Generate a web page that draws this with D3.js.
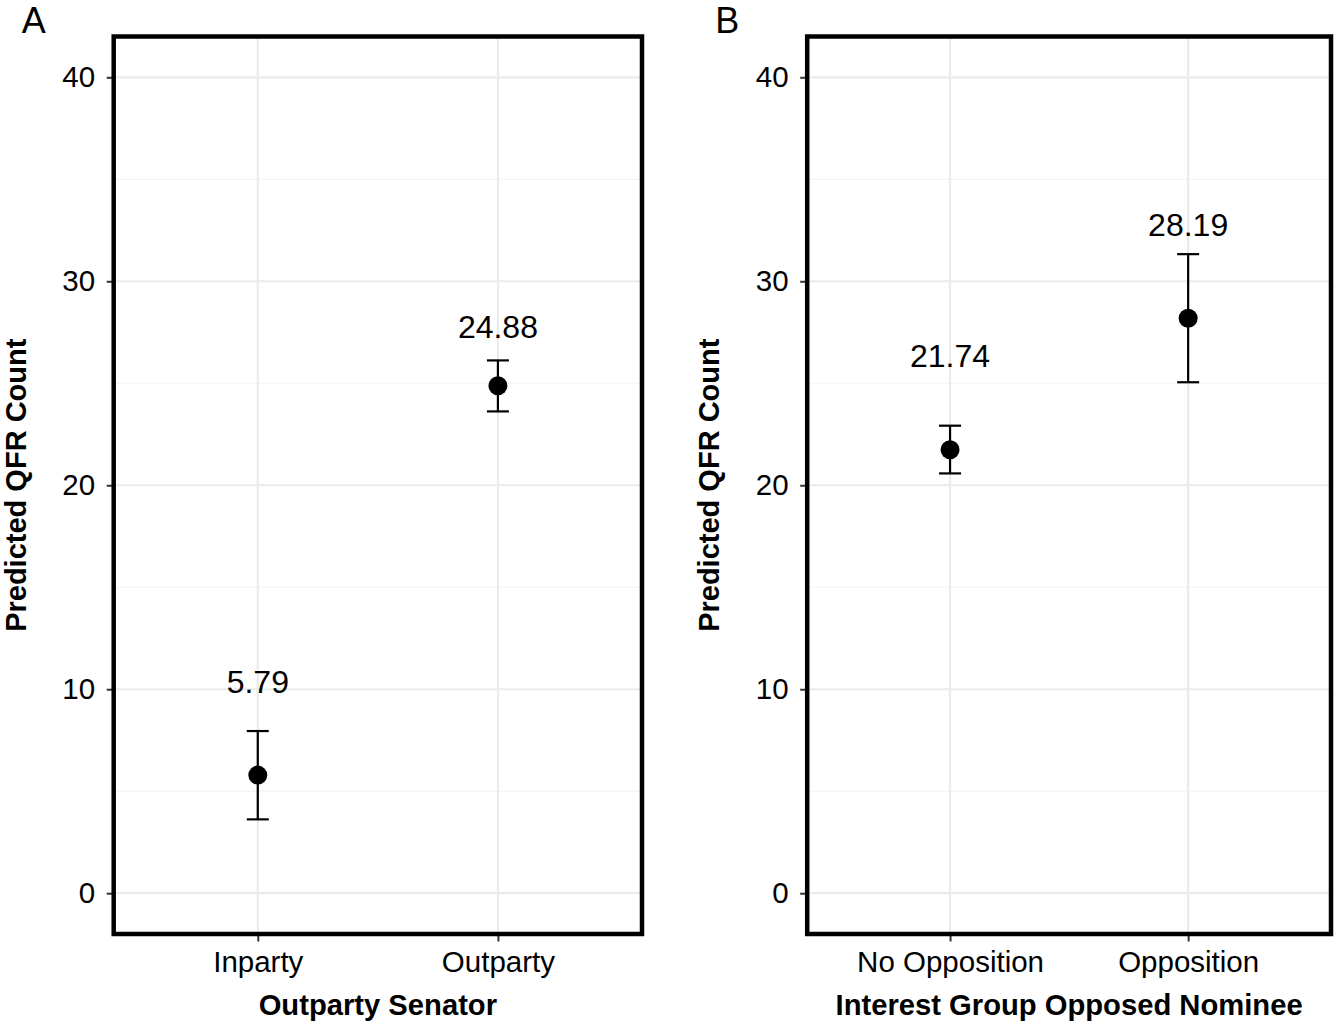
<!DOCTYPE html>
<html>
<head>
<meta charset="utf-8">
<script src="https://cdn.jsdelivr.net/npm/d3@7"></script>
<style>
  body { margin: 0; background: #fff; }
  svg { font-family: "Liberation Sans", Arial, sans-serif; }
</style>
</head>
<body>
<div id="chart"></div>
<script>
// panel A: outparty senator
const catsA = ['Inparty', 'Outparty'];
const estA = [5.79, 24.88];
const lowA = [3.62, 23.62];
const highA = [7.95, 26.12];
const labelYA = [10.38, 27.78];

// panel B: interest group opposition
const catsB = ['No Opposition', 'Opposition'];
const estB = [21.74, 28.19];
const lowB = [20.58, 25.05];
const highB = [22.92, 31.33];
const labelYB = [26.36, 32.8];

const yTicks = [0, 10, 20, 30, 40];
const yMinor = [5, 15, 25, 35];

const W = 1338, H = 1027;
const svg = d3.select('#chart').append('svg')
    .attr('width', W)
    .attr('height', H);

function drawPanel(opts) {
    const { left, right, top, bottom, cats, est, low, high, labelY, xTitle, letter } = opts;

    const x = d3.scalePoint(cats, [left, right]).padding(0.6);
    const y = d3.scaleLinear([-2, 42], [bottom, top]);

    const g = svg.append('g');

    // minor + major grid
    g.selectAll('line.minor').data(yMinor).join('line')
        .attr('x1', left).attr('x2', right)
        .attr('y1', d => y(d)).attr('y2', d => y(d))
        .attr('stroke', '#f3f3f3').attr('stroke-width', 1.2);
    g.selectAll('line.majorY').data(yTicks).join('line')
        .attr('x1', left).attr('x2', right)
        .attr('y1', d => y(d)).attr('y2', d => y(d))
        .attr('stroke', '#ebebeb').attr('stroke-width', 2.2);
    g.selectAll('line.majorX').data(cats).join('line')
        .attr('y1', top).attr('y2', bottom)
        .attr('x1', d => x(d)).attr('x2', d => x(d))
        .attr('stroke', '#ebebeb').attr('stroke-width', 2.2);

    const rows = cats.map((c, i) => ({ c, est: est[i], low: low[i], high: high[i], ly: labelY[i] }));

    // error bars
    const eb = g.selectAll('g.eb').data(rows).join('g');
    eb.append('line')
        .attr('x1', d => x(d.c)).attr('x2', d => x(d.c))
        .attr('y1', d => y(d.low)).attr('y2', d => y(d.high));
    eb.append('line')
        .attr('x1', d => x(d.c) - 11).attr('x2', d => x(d.c) + 11)
        .attr('y1', d => y(d.high)).attr('y2', d => y(d.high));
    eb.append('line')
        .attr('x1', d => x(d.c) - 11).attr('x2', d => x(d.c) + 11)
        .attr('y1', d => y(d.low)).attr('y2', d => y(d.low));
    eb.selectAll('line').attr('stroke', '#000').attr('stroke-width', 2.2);

    g.selectAll('circle').data(rows).join('circle')
        .attr('cx', d => x(d.c))
        .attr('cy', d => y(d.est))
        .attr('r', 9.5)
        .attr('fill', '#000');

    g.selectAll('text.val').data(rows).join('text')
        .attr('x', d => x(d.c))
        .attr('y', d => y(d.ly))
        .attr('dy', '0.36em')
        .attr('text-anchor', 'middle')
        .attr('font-size', 32)
        .attr('fill', '#000')
        .text(d => d.est.toFixed(2));

    // axes
    const ya = g.append('g')
        .attr('transform', `translate(${left},0)`)
        .call(d3.axisLeft(y).tickValues(yTicks).tickSize(7).tickPadding(11.5));
    const xa = g.append('g')
        .attr('transform', `translate(0,${bottom})`)
        .call(d3.axisBottom(x).tickSize(7.5).tickPadding(10));
    [ya, xa].forEach(a => {
        a.select('.domain').remove();
        a.selectAll('line').attr('stroke', '#333').attr('stroke-width', 2);
        a.selectAll('text').attr('font-size', 29.5).attr('fill', '#000')
            .attr('font-family', '"Liberation Sans", Arial, sans-serif');
    });

    // panel border
    g.append('rect')
        .attr('x', left).attr('y', top)
        .attr('width', right - left).attr('height', bottom - top)
        .attr('fill', 'none')
        .attr('stroke', '#000')
        .attr('stroke-width', 4.5);

    // titles
    g.append('text')
        .attr('x', (left + right) / 2)
        .attr('y', 1015)
        .attr('text-anchor', 'middle')
        .attr('font-size', 29.2).attr('font-weight', 'bold')
        .text(xTitle);
    g.append('text')
        .attr('transform', `translate(${left - 88},${(top + bottom) / 2}) rotate(-90)`)
        .attr('text-anchor', 'middle')
        .attr('font-size', 29).attr('font-weight', 'bold')
        .text('Predicted QFR Count');
    g.append('text')
        .attr('x', left - 92).attr('y', 33)
        .attr('font-size', 36)
        .text(letter);
}

drawPanel({
    left: 113.7, right: 642, top: 36.5, bottom: 934,
    cats: catsA, est: estA, low: lowA, high: highA, labelY: labelYA,
    xTitle: 'Outparty Senator', letter: 'A'
});
drawPanel({
    left: 807.2, right: 1331, top: 36.5, bottom: 934,
    cats: catsB, est: estB, low: lowB, high: highB, labelY: labelYB,
    xTitle: 'Interest Group Opposed Nominee', letter: 'B'
});
</script>
</body>
</html>
